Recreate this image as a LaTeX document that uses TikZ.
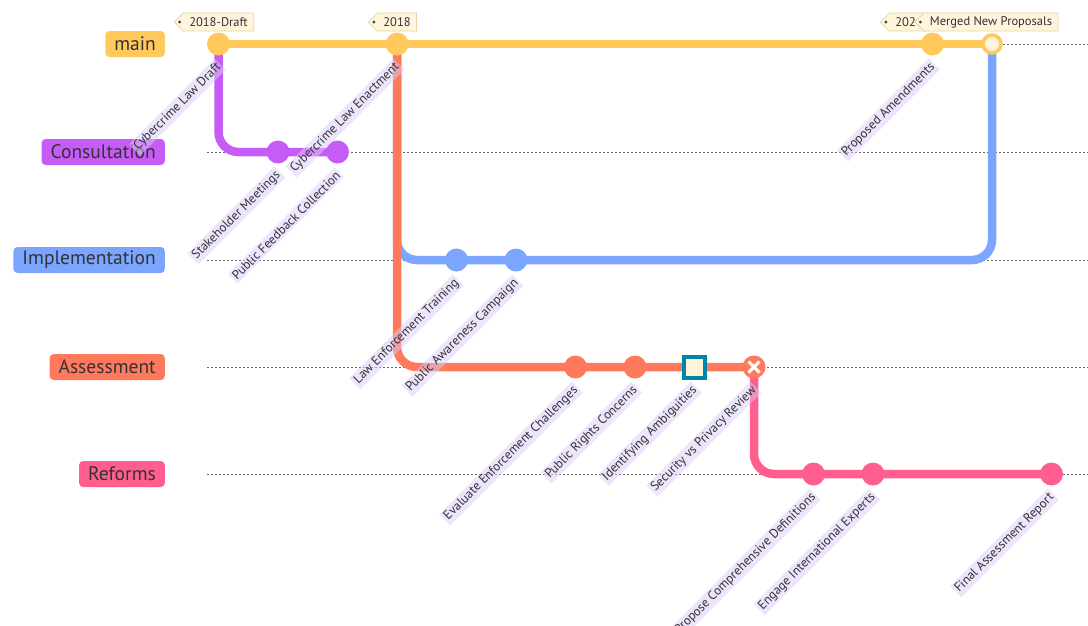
\documentclass[tikz,border=0pt]{standalone}
\usepackage{fontspec}
\setmainfont{PT Sans}
\usetikzlibrary{calc,shapes.symbols}

\definecolor{gmain}{HTML}{FFC95C}
\definecolor{gcons}{HTML}{C65BF5}
\definecolor{gimpl}{HTML}{7BA5FF}
\definecolor{gasse}{HTML}{FF7A5C}
\definecolor{grefo}{HTML}{FF5E8F}
\definecolor{cream}{HTML}{FFF3DC}
\definecolor{hilite}{HTML}{0085A3}
\definecolor{lanegray}{HTML}{666666}
\definecolor{inkc}{HTML}{333333}
\definecolor{labbg}{HTML}{DCCBFA}
\definecolor{tagfill}{HTML}{FFF4DC}
\definecolor{tagline}{HTML}{E8D6A8}

\tikzset{
  lane/.style={lanegray, line width=1pt, dash pattern=on 2pt off 2pt},
  branchline/.style={line width=8.5pt, rounded corners=20pt, draw=#1},
  commitdot/.style={circle, fill=#1, minimum size=23pt, inner sep=0pt},
  branchname/.style={fill=#1, rounded corners=4pt, minimum height=26pt, inner xsep=9pt,
    inner ysep=0pt, anchor=east, text=inkc, font=\fontsize{19.5}{20}\selectfont},
  clabel/.style={fill=labbg, fill opacity=.5, text opacity=1, text=inkc,
    font=\fontsize{12.8}{13}\selectfont, rotate=45, anchor=east, inner sep=2pt},
  tagbox/.style={signal, signal to=west, fill=tagfill, draw=tagline, line width=.8pt,
    minimum height=18pt, inner xsep=6pt, inner ysep=0pt, text=inkc,
    font=\fontsize{12.5}{13}\selectfont},
  taghole/.style={fill=inkc},
}

\begin{document}
\begin{tikzpicture}[x=1pt,y=-1pt]
\useasboundingbox (0,0) rectangle (1088,625);

% lane rows
\foreach \ly in {44,152,260,367,474}
  \draw[lane] (207,\ly) -- (1088,\ly);

% commit positions
\coordinate (k1)  at (218.5,44);
\coordinate (k2)  at (278,152);
\coordinate (k3)  at (337.5,152);
\coordinate (k4)  at (397,44);
\coordinate (k5)  at (456.5,260);
\coordinate (k6)  at (516,260);
\coordinate (k7)  at (575.5,367);
\coordinate (k8)  at (635,367);
\coordinate (k9)  at (694.5,367);
\coordinate (k10) at (754,367);
\coordinate (k11) at (813.5,474);
\coordinate (k12) at (873,474);
\coordinate (k13) at (932.5,44);
\coordinate (k14) at (992,44);
\coordinate (k15) at (1051.5,474);

% branch lines
\draw[branchline=gmain] (k1) -- (k4) -- (k13) -- (k14);
\draw[branchline=gcons] (k1) |- (k2) -- (k3);
\draw[branchline=gimpl] (k4) |- (k5) -- (k6) -| (k14);
\draw[branchline=gasse] (k4) |- (k7) -- (k8) -- (k9) -- (k10);
\draw[branchline=grefo] (k10) |- (k11) -- (k12) -- (k15);

% commits
\node[commitdot=gmain] (d1) at (k1) {};
\node[commitdot=gcons] (d2) at (k2) {};
\node[commitdot=gcons] (d3) at (k3) {};
\node[commitdot=gmain] (d4) at (k4) {};
\node[commitdot=gimpl] (d5) at (k5) {};
\node[commitdot=gimpl] (d6) at (k6) {};
\node[commitdot=gasse] (d7) at (k7) {};
\node[commitdot=gasse] (d8) at (k8) {};
\node[rectangle, draw=hilite, fill=cream, line width=4pt, minimum size=21pt, inner sep=0pt] (d9) at (k9) {};
\node[commitdot=gasse] (d10) at (k10) {};
\draw[white, line width=3pt] ($(k10)+(-5.5,-5.5)$) -- ($(k10)+(5.5,5.5)$)
                             ($(k10)+(-5.5,5.5)$) -- ($(k10)+(5.5,-5.5)$);
\node[commitdot=grefo] (d11) at (k11) {};
\node[commitdot=grefo] (d12) at (k12) {};
\node[commitdot=gmain] (d13) at (k13) {};
\node[circle, draw=gmain, fill=cream, line width=3.5pt, minimum size=18pt, inner sep=0pt] (d14) at (k14) {};
\node[commitdot=grefo] (d15) at (k15) {};

% branch names
\node[branchname=gmain] (bmain) at (165,44)  {main};
\node[branchname=gcons] (bcons) at (165,152) {Consultation};
\node[branchname=gimpl] (bimpl) at (165,260) {Implementation};
\node[branchname=gasse] (basse) at (165,367) {Assessment};
\node[branchname=grefo] (brefo) at (165,474) {Reforms};

% tags
\node[tagbox] (t1) at (218.5,22) {2018-Draft};
\fill[taghole] ($(t1.west)+(6,0)$) circle (1.5pt);
\node[tagbox] (t2) at (397,22) {2018};
\fill[taghole] ($(t2.west)+(6,0)$) circle (1.5pt);
\node[tagbox] (t3) at (909,22) {2024};
\fill[taghole] ($(t3.west)+(6,0)$) circle (1.5pt);
\node[tagbox] (t4) at (991,22) {Merged New Proposals};
\fill[taghole] ($(t4.west)+(6,0)$) circle (1.5pt);

% commit messages
\node[clabel] (m1)  at ($(k1)+(2,20)$)  {Cybercrime Law Draft};
\node[clabel] (m2)  at ($(k2)+(2,20)$)  {Stakeholder Meetings};
\node[clabel] (m3)  at ($(k3)+(2,20)$)  {Public Feedback Collection};
\node[clabel] (m4)  at ($(k4)+(2,20)$)  {Cybercrime Law Enactment};
\node[clabel] (m5)  at ($(k5)+(2,20)$)  {Law Enforcement Training};
\node[clabel] (m6)  at ($(k6)+(2,20)$)  {Public Awareness Campaign};
\node[clabel] (m7)  at ($(k7)+(2,20)$)  {Evaluate Enforcement Challenges};
\node[clabel] (m8)  at ($(k8)+(2,20)$)  {Public Rights Concerns};
\node[clabel] (m9)  at ($(k9)+(2,20)$)  {Identifying Ambiguities};
\node[clabel] (m10) at ($(k10)+(2,20)$) {Security vs Privacy Review};
\node[clabel] (m11) at ($(k11)+(2,20)$) {Propose Comprehensive Definitions};
\node[clabel] (m12) at ($(k12)+(2,20)$) {Engage International Experts};
\node[clabel] (m13) at ($(k13)+(2,20)$) {Proposed Amendments};
\node[clabel] (m15) at ($(k15)+(2,20)$) {Final Assessment Report};
\end{tikzpicture}
\end{document}
